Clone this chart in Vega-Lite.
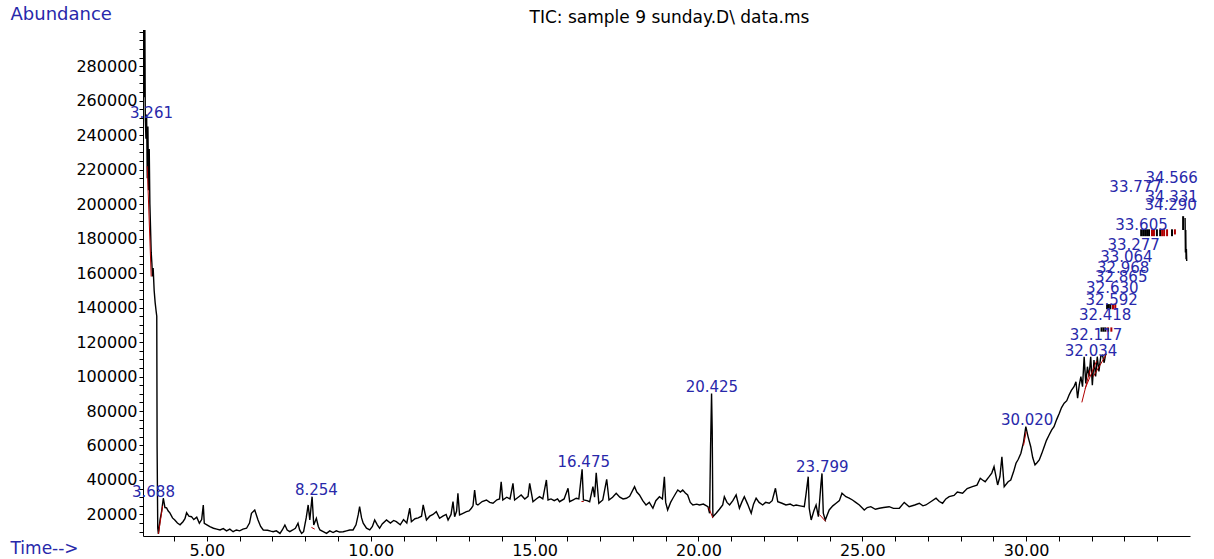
{
  "$schema": "https://vega.github.io/schema/vega-lite/v6.json",
  "width": 1047,
  "height": 506,
  "autosize": {"type": "none"},
  "padding": {"left": 143, "top": 30, "right": 24, "bottom": 23},
  "background": "white",
  "config": {"view": {"stroke": null}, "font": "DejaVu Sans"},
  "title": {"text": "TIC: sample 9 sunday.D\\ data.ms", "font": "DejaVu Sans", "fontSize": 17, "fontWeight": "normal", "color": "black", "anchor": "middle", "offset": -22, "dx": 3},
  "datasets": {
    "tic": [
      {"seg":"a","t":3.06,"val":330000},{"seg":"a","t":3.08,"val":262000},{"seg":"a","t":3.10,"val":330000},{"seg":"a","t":3.12,"val":250000},
      {"seg":"a","t":3.14,"val":238000},{"seg":"a","t":3.16,"val":252000},{"seg":"a","t":3.18,"val":215000},{"seg":"a","t":3.20,"val":245000},
      {"seg":"a","t":3.22,"val":208000},{"seg":"a","t":3.24,"val":232000},{"seg":"a","t":3.26,"val":200000},{"seg":"a","t":3.28,"val":186000},
      {"seg":"a","t":3.30,"val":172000},{"seg":"a","t":3.32,"val":166000},{"seg":"a","t":3.34,"val":158000},{"seg":"a","t":3.36,"val":163000},
      {"seg":"a","t":3.39,"val":150000},{"seg":"a","t":3.42,"val":143000},{"seg":"a","t":3.45,"val":138000},{"seg":"a","t":3.47,"val":135000},
      {"seg":"a","t":3.48,"val":60000},{"seg":"a","t":3.50,"val":12000},{"seg":"a","t":3.52,"val":8700},{"seg":"a","t":3.57,"val":16800},
      {"seg":"a","t":3.62,"val":22000},{"seg":"a","t":3.67,"val":29400},{"seg":"a","t":3.72,"val":24000},{"seg":"a","t":3.77,"val":23800},
      {"seg":"a","t":3.82,"val":22000},{"seg":"a","t":3.87,"val":20900},{"seg":"a","t":3.95,"val":18000},{"seg":"a","t":4.02,"val":16800},
      {"seg":"a","t":4.10,"val":15000},{"seg":"a","t":4.18,"val":14000},{"seg":"a","t":4.27,"val":15800},{"seg":"a","t":4.33,"val":17500},
      {"seg":"a","t":4.38,"val":21000},{"seg":"a","t":4.45,"val":19000},{"seg":"a","t":4.53,"val":18700},{"seg":"a","t":4.60,"val":17000},
      {"seg":"a","t":4.69,"val":18400},{"seg":"a","t":4.77,"val":14900},{"seg":"a","t":4.84,"val":17000},{"seg":"a","t":4.89,"val":25500},
      {"seg":"a","t":4.92,"val":14900},{"seg":"a","t":5.00,"val":14000},{"seg":"a","t":5.09,"val":12900},{"seg":"a","t":5.20,"val":12000},
      {"seg":"a","t":5.30,"val":11500},{"seg":"a","t":5.40,"val":11000},{"seg":"a","t":5.50,"val":11800},{"seg":"a","t":5.60,"val":10500},
      {"seg":"a","t":5.70,"val":11500},{"seg":"a","t":5.80,"val":10000},{"seg":"a","t":5.90,"val":11000},{"seg":"a","t":6.00,"val":10500},
      {"seg":"a","t":6.10,"val":11500},{"seg":"a","t":6.21,"val":12000},{"seg":"a","t":6.30,"val":15000},{"seg":"a","t":6.36,"val":20700},
      {"seg":"a","t":6.46,"val":22600},{"seg":"a","t":6.56,"val":16800},{"seg":"a","t":6.64,"val":13000},{"seg":"a","t":6.72,"val":11000},
      {"seg":"a","t":6.85,"val":10800},{"seg":"a","t":6.95,"val":10300},{"seg":"a","t":7.02,"val":10000},{"seg":"a","t":7.12,"val":10500},
      {"seg":"a","t":7.23,"val":9000},{"seg":"a","t":7.30,"val":11000},{"seg":"a","t":7.38,"val":13900},{"seg":"a","t":7.45,"val":11000},
      {"seg":"a","t":7.53,"val":10000},{"seg":"a","t":7.62,"val":11000},{"seg":"a","t":7.70,"val":12000},{"seg":"a","t":7.78,"val":14900},
      {"seg":"a","t":7.83,"val":11000},{"seg":"a","t":7.89,"val":9000},{"seg":"a","t":7.95,"val":10000},{"seg":"a","t":8.03,"val":18000},
      {"seg":"a","t":8.09,"val":25500},{"seg":"a","t":8.14,"val":16800},{"seg":"a","t":8.21,"val":30300},{"seg":"a","t":8.26,"val":13900},
      {"seg":"a","t":8.34,"val":17800},{"seg":"a","t":8.40,"val":13000},{"seg":"a","t":8.45,"val":11000},{"seg":"a","t":8.55,"val":10000},
      {"seg":"a","t":8.65,"val":9000},{"seg":"a","t":8.75,"val":10500},{"seg":"a","t":8.85,"val":9500},{"seg":"a","t":8.95,"val":10500},
      {"seg":"a","t":9.05,"val":9800},{"seg":"a","t":9.16,"val":10000},{"seg":"a","t":9.26,"val":10500},{"seg":"a","t":9.36,"val":11000},
      {"seg":"a","t":9.46,"val":11000},{"seg":"a","t":9.55,"val":14000},{"seg":"a","t":9.62,"val":20000},{"seg":"a","t":9.66,"val":24500},
      {"seg":"a","t":9.72,"val":18000},{"seg":"a","t":9.77,"val":14900},{"seg":"a","t":9.87,"val":12000},{"seg":"a","t":9.97,"val":11000},
      {"seg":"a","t":10.05,"val":13000},{"seg":"a","t":10.12,"val":16800},{"seg":"a","t":10.20,"val":14000},{"seg":"a","t":10.27,"val":12000},
      {"seg":"a","t":10.35,"val":14500},{"seg":"a","t":10.48,"val":16800},{"seg":"a","t":10.60,"val":15000},{"seg":"a","t":10.70,"val":16500},
      {"seg":"a","t":10.78,"val":15800},{"seg":"a","t":10.90,"val":14000},{"seg":"a","t":11.00,"val":17000},{"seg":"a","t":11.10,"val":15000},
      {"seg":"a","t":11.19,"val":23600},{"seg":"a","t":11.24,"val":15800},{"seg":"a","t":11.35,"val":17500},{"seg":"a","t":11.45,"val":18000},
      {"seg":"a","t":11.55,"val":19000},{"seg":"a","t":11.60,"val":25500},{"seg":"a","t":11.70,"val":16800},{"seg":"a","t":11.80,"val":19000},
      {"seg":"a","t":11.90,"val":20000},{"seg":"a","t":12.00,"val":21600},{"seg":"a","t":12.10,"val":17800},{"seg":"a","t":12.20,"val":19000},
      {"seg":"a","t":12.30,"val":20000},{"seg":"a","t":12.36,"val":16800},{"seg":"a","t":12.45,"val":20000},{"seg":"a","t":12.51,"val":27400},
      {"seg":"a","t":12.56,"val":18700},{"seg":"a","t":12.62,"val":22000},{"seg":"a","t":12.66,"val":32300},{"seg":"a","t":12.71,"val":19700},
      {"seg":"a","t":12.80,"val":20500},{"seg":"a","t":12.92,"val":21600},{"seg":"a","t":13.00,"val":22000},{"seg":"a","t":13.07,"val":23600},
      {"seg":"a","t":13.12,"val":25000},{"seg":"a","t":13.17,"val":34200},{"seg":"a","t":13.22,"val":26000},{"seg":"a","t":13.27,"val":25500},
      {"seg":"a","t":13.40,"val":27500},{"seg":"a","t":13.53,"val":28400},{"seg":"a","t":13.63,"val":27000},{"seg":"a","t":13.73,"val":26500},
      {"seg":"a","t":13.85,"val":28500},{"seg":"a","t":13.93,"val":29000},{"seg":"a","t":13.98,"val":39000},{"seg":"a","t":14.03,"val":28400},
      {"seg":"a","t":14.15,"val":30000},{"seg":"a","t":14.25,"val":29000},{"seg":"a","t":14.34,"val":38000},{"seg":"a","t":14.39,"val":28400},
      {"seg":"a","t":14.50,"val":30000},{"seg":"a","t":14.59,"val":31300},{"seg":"a","t":14.70,"val":29000},{"seg":"a","t":14.80,"val":30500},
      {"seg":"a","t":14.85,"val":38000},{"seg":"a","t":14.95,"val":27400},{"seg":"a","t":15.05,"val":29000},{"seg":"a","t":15.15,"val":30300},
      {"seg":"a","t":15.25,"val":29000},{"seg":"a","t":15.36,"val":40000},{"seg":"a","t":15.41,"val":28400},{"seg":"a","t":15.50,"val":29000},
      {"seg":"a","t":15.60,"val":28000},{"seg":"a","t":15.70,"val":29000},{"seg":"a","t":15.76,"val":27400},{"seg":"a","t":15.90,"val":29000},
      {"seg":"a","t":16.02,"val":35200},{"seg":"a","t":16.07,"val":27400},{"seg":"a","t":16.18,"val":28500},{"seg":"a","t":16.27,"val":29400},
      {"seg":"a","t":16.35,"val":29000},{"seg":"a","t":16.45,"val":46200},{"seg":"a","t":16.49,"val":28400},{"seg":"a","t":16.60,"val":28000},
      {"seg":"a","t":16.68,"val":27400},{"seg":"a","t":16.78,"val":36100},{"seg":"a","t":16.83,"val":30000},{"seg":"a","t":16.88,"val":44200},
      {"seg":"a","t":16.96,"val":26500},{"seg":"a","t":17.08,"val":28400},{"seg":"a","t":17.20,"val":40400},{"seg":"a","t":17.27,"val":28400},
      {"seg":"a","t":17.38,"val":30000},{"seg":"a","t":17.49,"val":32300},{"seg":"a","t":17.60,"val":30000},{"seg":"a","t":17.70,"val":29000},
      {"seg":"a","t":17.80,"val":29400},{"seg":"a","t":17.90,"val":30500},{"seg":"a","t":18.05,"val":36100},{"seg":"a","t":18.12,"val":33000},
      {"seg":"a","t":18.20,"val":31300},{"seg":"a","t":18.30,"val":28000},{"seg":"a","t":18.40,"val":25500},{"seg":"a","t":18.50,"val":27000},
      {"seg":"a","t":18.61,"val":23600},{"seg":"a","t":18.70,"val":28000},{"seg":"a","t":18.81,"val":30300},{"seg":"a","t":18.90,"val":29000},
      {"seg":"a","t":18.96,"val":41900},{"seg":"a","t":19.00,"val":27000},{"seg":"a","t":19.06,"val":22600},{"seg":"a","t":19.15,"val":27000},
      {"seg":"a","t":19.22,"val":29400},{"seg":"a","t":19.30,"val":32000},{"seg":"a","t":19.37,"val":34200},{"seg":"a","t":19.45,"val":33000},
      {"seg":"a","t":19.52,"val":34200},{"seg":"a","t":19.60,"val":32500},{"seg":"a","t":19.67,"val":31300},{"seg":"a","t":19.75,"val":27000},
      {"seg":"a","t":19.83,"val":25500},{"seg":"a","t":19.95,"val":26000},{"seg":"a","t":20.03,"val":25500},{"seg":"a","t":20.15,"val":26000},
      {"seg":"a","t":20.29,"val":24500},{"seg":"a","t":20.34,"val":20700},{"seg":"a","t":20.37,"val":59300},{"seg":"a","t":20.40,"val":90200},
      {"seg":"a","t":20.42,"val":69000},{"seg":"a","t":20.44,"val":18700},{"seg":"a","t":20.54,"val":20700},{"seg":"a","t":20.64,"val":23000},
      {"seg":"a","t":20.74,"val":25500},{"seg":"a","t":20.79,"val":30300},{"seg":"a","t":20.87,"val":27000},{"seg":"a","t":20.95,"val":25500},
      {"seg":"a","t":21.05,"val":28000},{"seg":"a","t":21.15,"val":31300},{"seg":"a","t":21.25,"val":23600},{"seg":"a","t":21.32,"val":27000},
      {"seg":"a","t":21.40,"val":30300},{"seg":"a","t":21.50,"val":26000},{"seg":"a","t":21.61,"val":20700},{"seg":"a","t":21.68,"val":26000},
      {"seg":"a","t":21.76,"val":29400},{"seg":"a","t":21.85,"val":27000},{"seg":"a","t":21.96,"val":25500},{"seg":"a","t":22.05,"val":27000},
      {"seg":"a","t":22.16,"val":26500},{"seg":"a","t":22.25,"val":28000},{"seg":"a","t":22.35,"val":35200},{"seg":"a","t":22.42,"val":27400},
      {"seg":"a","t":22.55,"val":26500},{"seg":"a","t":22.67,"val":25500},{"seg":"a","t":22.80,"val":26000},{"seg":"a","t":22.90,"val":25000},
      {"seg":"a","t":22.98,"val":25500},{"seg":"a","t":23.10,"val":25000},{"seg":"a","t":23.23,"val":24500},{"seg":"a","t":23.28,"val":31300},
      {"seg":"a","t":23.35,"val":41900},{"seg":"a","t":23.38,"val":23600},{"seg":"a","t":23.44,"val":16800},{"seg":"a","t":23.52,"val":22000},
      {"seg":"a","t":23.59,"val":25500},{"seg":"a","t":23.66,"val":18700},{"seg":"a","t":23.74,"val":38000},{"seg":"a","t":23.77,"val":43800},
      {"seg":"a","t":23.81,"val":20700},{"seg":"a","t":23.87,"val":16800},{"seg":"a","t":23.99,"val":22600},{"seg":"a","t":24.10,"val":25000},
      {"seg":"a","t":24.20,"val":26500},{"seg":"a","t":24.30,"val":28000},{"seg":"a","t":24.38,"val":32300},{"seg":"a","t":24.50,"val":30300},
      {"seg":"a","t":24.60,"val":29500},{"seg":"a","t":24.70,"val":28400},{"seg":"a","t":24.80,"val":27000},{"seg":"a","t":24.91,"val":25500},
      {"seg":"a","t":25.06,"val":22600},{"seg":"a","t":25.15,"val":24000},{"seg":"a","t":25.26,"val":24500},{"seg":"a","t":25.40,"val":23000},
      {"seg":"a","t":25.52,"val":23600},{"seg":"a","t":25.65,"val":24000},{"seg":"a","t":25.82,"val":24500},{"seg":"a","t":25.95,"val":23500},
      {"seg":"a","t":26.13,"val":23600},{"seg":"a","t":26.28,"val":27000},{"seg":"a","t":26.43,"val":24500},{"seg":"a","t":26.60,"val":25500},
      {"seg":"a","t":26.74,"val":26500},{"seg":"a","t":26.85,"val":25000},{"seg":"a","t":26.94,"val":25500},{"seg":"a","t":27.10,"val":27500},
      {"seg":"a","t":27.25,"val":29400},{"seg":"a","t":27.35,"val":27500},{"seg":"a","t":27.45,"val":26500},{"seg":"a","t":27.55,"val":29000},
      {"seg":"a","t":27.65,"val":30300},{"seg":"a","t":27.80,"val":31000},{"seg":"a","t":27.90,"val":33000},{"seg":"a","t":28.06,"val":32300},
      {"seg":"a","t":28.20,"val":35000},{"seg":"a","t":28.36,"val":36100},{"seg":"a","t":28.50,"val":37000},{"seg":"a","t":28.60,"val":41000},
      {"seg":"a","t":28.67,"val":40000},{"seg":"a","t":28.75,"val":39000},{"seg":"a","t":28.87,"val":41900},{"seg":"a","t":28.95,"val":44000},
      {"seg":"a","t":29.02,"val":47700},{"seg":"a","t":29.13,"val":37100},{"seg":"a","t":29.20,"val":42000},{"seg":"a","t":29.26,"val":53500},
      {"seg":"a","t":29.33,"val":36100},{"seg":"a","t":29.45,"val":39000},{"seg":"a","t":29.53,"val":40000},{"seg":"a","t":29.62,"val":45000},
      {"seg":"a","t":29.69,"val":49700},{"seg":"a","t":29.76,"val":52000},{"seg":"a","t":29.84,"val":55500},{"seg":"a","t":29.92,"val":62000},
      {"seg":"a","t":29.99,"val":70900},{"seg":"a","t":30.06,"val":65000},{"seg":"a","t":30.14,"val":59300},{"seg":"a","t":30.20,"val":53000},
      {"seg":"a","t":30.27,"val":48700},{"seg":"a","t":30.33,"val":50000},{"seg":"a","t":30.40,"val":51600},{"seg":"a","t":30.47,"val":55000},
      {"seg":"a","t":30.55,"val":59300},{"seg":"a","t":30.62,"val":63000},{"seg":"a","t":30.70,"val":66100},{"seg":"a","t":30.78,"val":69000},
      {"seg":"a","t":30.85,"val":70900},{"seg":"a","t":30.93,"val":75000},{"seg":"a","t":31.01,"val":78600},{"seg":"a","t":31.08,"val":82000},
      {"seg":"a","t":31.16,"val":84500},{"seg":"a","t":31.24,"val":86000},{"seg":"a","t":31.31,"val":89300},{"seg":"a","t":31.38,"val":92000},
      {"seg":"a","t":31.46,"val":94100},{"seg":"a","t":31.52,"val":97000},{"seg":"a","t":31.57,"val":87400},{"seg":"a","t":31.62,"val":95000},
      {"seg":"a","t":31.67,"val":99900},{"seg":"a","t":31.72,"val":94100},{"seg":"a","t":31.77,"val":111500},{"seg":"a","t":31.82,"val":96000},
      {"seg":"a","t":31.87,"val":105700},{"seg":"a","t":31.92,"val":100000},{"seg":"a","t":31.97,"val":111500},{"seg":"a","t":32.02,"val":95000},
      {"seg":"a","t":32.07,"val":109600},{"seg":"a","t":32.12,"val":100000},{"seg":"a","t":32.17,"val":111500},{"seg":"a","t":32.22,"val":103000},
      {"seg":"a","t":32.28,"val":112000},{"seg":"a","t":32.33,"val":112400},{"seg":"a","t":32.38,"val":108000},{"seg":"a","t":32.43,"val":113400},
      {"seg":"b","t":34.85,"val":192000},{"seg":"b","t":34.86,"val":172000},{"seg":"b","t":34.87,"val":185000},{"seg":"b","t":34.88,"val":168000},
      {"seg":"b","t":34.89,"val":174000},{"seg":"b","t":34.90,"val":167000}
    ],
    "baselines": [
      {"seg":"r1","t":3.18,"val":222000},{"seg":"r1","t":3.30,"val":158000},
      {"seg":"r2","t":3.52,"val":8700},{"seg":"r2","t":3.65,"val":25000},
      {"seg":"r3","t":8.19,"val":12500},{"seg":"r3","t":8.29,"val":11500},
      {"seg":"r4","t":16.43,"val":27500},{"seg":"r4","t":16.50,"val":27500},
      {"seg":"r5","t":20.31,"val":24000},{"seg":"r5","t":20.44,"val":18000},
      {"seg":"r6","t":23.69,"val":20000},{"seg":"r6","t":23.88,"val":16000},
      {"seg":"r7","t":29.92,"val":60000},{"seg":"r7","t":30.00,"val":68000},
      {"seg":"r8","t":31.70,"val":85000},{"seg":"r8","t":31.95,"val":104000},
      {"seg":"r9","t":31.80,"val":93000},{"seg":"r9","t":32.15,"val":109000},
      {"seg":"r10","t":32.05,"val":100000},{"seg":"r10","t":32.45,"val":113000}
    ],
    "marks": [
      {"kind":"peak","t":33.51,"val":181400,"val2":185400},{"kind":"peak","t":33.57,"val":181400,"val2":185400},
      {"kind":"peak","t":33.63,"val":181400,"val2":185400},{"kind":"peak","t":33.69,"val":181400,"val2":185400},
      {"kind":"peak","t":33.75,"val":181400,"val2":185400},{"kind":"base","t":33.84,"val":181400,"val2":185400},
      {"kind":"base","t":33.90,"val":181400,"val2":185400},{"kind":"peak","t":33.99,"val":181400,"val2":185400},
      {"kind":"peak","t":34.09,"val":181400,"val2":185400},{"kind":"base","t":34.15,"val":181400,"val2":185400},
      {"kind":"base","t":34.21,"val":181400,"val2":185400},{"kind":"base","t":34.30,"val":181400,"val2":185400},
      {"kind":"peak","t":34.45,"val":181400,"val2":185400},{"kind":"base","t":34.54,"val":182400,"val2":185400},
      {"kind":"peak","t":34.79,"val":185000,"val2":193000},
      {"kind":"peak","t":32.47,"val":139000,"val2":142000},{"kind":"peak","t":32.52,"val":139000,"val2":142000},
      {"kind":"peak","t":32.57,"val":139000,"val2":142000},{"kind":"base","t":32.65,"val":139000,"val2":142000},
      {"kind":"base","t":32.72,"val":139000,"val2":142000},
      {"kind":"peak","t":32.30,"val":126000,"val2":128500},{"kind":"peak","t":32.36,"val":126000,"val2":128500},
      {"kind":"peak","t":32.42,"val":126000,"val2":128500},{"kind":"base","t":32.50,"val":126000,"val2":128500},
      {"kind":"base","t":32.60,"val":126000,"val2":128500}
    ],
    "labels": [
      {"label":"3.261","t":3.31,"val":252700},
      {"label":"3.688","t":3.37,"val":33000},
      {"label":"8.254","t":8.34,"val":34200},
      {"label":"16.475","t":16.50,"val":50600},
      {"label":"20.425","t":20.41,"val":94100},
      {"label":"23.799","t":23.78,"val":47700},
      {"label":"30.020","t":30.03,"val":74800},
      {"label":"32.034","t":31.98,"val":114800},
      {"label":"32.117","t":32.13,"val":124100},
      {"label":"32.418","t":32.41,"val":135700},
      {"label":"32.592","t":32.61,"val":144400},
      {"label":"32.630","t":32.63,"val":151300},
      {"label":"32.865","t":32.90,"val":157700},
      {"label":"32.968","t":32.96,"val":162900},
      {"label":"33.064","t":33.06,"val":169300},
      {"label":"33.277","t":33.28,"val":176200},
      {"label":"33.605","t":33.52,"val":187800},
      {"label":"34.290","t":34.41,"val":199400},
      {"label":"34.331","t":34.44,"val":204000},
      {"label":"33.777","t":33.34,"val":209800},
      {"label":"34.566","t":34.44,"val":215100}
    ]
  },
  "encoding": {
    "x": {
      "field": "t", "type": "quantitative",
      "scale": {"domain": [3.05, 35], "nice": false, "zero": false},
      "axis": {
        "values": [4,5,6,7,8,9,10,11,12,13,14,15,16,17,18,19,20,21,22,23,24,25,26,27,28,29,30,31,32,33,34],
        "labelExpr": "datum.value % 5 === 0 ? format(datum.value, '.2f') : ''",
        "grid": false, "tickSize": 5, "tickColor": "black", "domainColor": "black",
        "labelFont": "DejaVu Sans", "labelFontSize": 16, "labelColor": "black", "labelPadding": 1,
        "labelFlush": false, "labelOverlap": false,
        "title": "Time-->", "titleFont": "DejaVu Sans", "titleFontSize": 17, "titleFontWeight": "normal",
        "titleColor": "#2828aa", "titleX": -133, "titleY": 12, "titleAlign": "left", "titleBaseline": "middle", "titleAngle": 0
      }
    },
    "y": {
      "field": "val", "type": "quantitative",
      "scale": {"domain": [7500, 301000], "nice": false, "zero": false},
      "axis": {
        "values": [10000,15000,20000,25000,30000,35000,40000,45000,50000,55000,60000,65000,70000,75000,80000,85000,90000,95000,100000,105000,110000,115000,120000,125000,130000,135000,140000,145000,150000,155000,160000,165000,170000,175000,180000,185000,190000,195000,200000,205000,210000,215000,220000,225000,230000,235000,240000,245000,250000,255000,260000,265000,270000,275000,280000,285000,290000,295000,300000],
        "labelExpr": "(datum.value % 20000 === 0 && datum.value <= 280000) ? format(datum.value, 'd') : ''",
        "grid": false, "tickSize": 4, "tickColor": "black", "domainColor": "black",
        "labelFont": "DejaVu Sans", "labelFontSize": 16, "labelColor": "black", "labelPadding": 2,
        "labelOverlap": false, "labelFlush": false,
        "title": "Abundance", "titleFont": "DejaVu Sans", "titleFontSize": 18, "titleFontWeight": "normal",
        "titleColor": "#2828aa", "titleX": -133, "titleY": -16, "titleAlign": "left", "titleBaseline": "middle", "titleAngle": 0
      }
    }
  },
  "layer": [
    {
      "data": {"name": "tic"},
      "mark": {"type": "line", "color": "black", "strokeWidth": 1.4, "clip": true, "interpolate": "linear"},
      "encoding": {"detail": {"field": "seg"}}
    },
    {
      "data": {"name": "baselines"},
      "mark": {"type": "line", "color": "#b00000", "strokeWidth": 1, "clip": true},
      "encoding": {"detail": {"field": "seg"}}
    },
    {
      "data": {"name": "marks"},
      "mark": {"type": "rule", "strokeWidth": 2},
      "encoding": {
        "y2": {"field": "val2"},
        "color": {"field": "kind", "type": "nominal", "scale": {"domain": ["peak", "base"], "range": ["black", "#b00000"]}, "legend": null}
      }
    },
    {
      "data": {"name": "labels"},
      "mark": {"type": "text", "font": "DejaVu Sans", "fontSize": 15, "color": "#2828aa", "align": "center", "baseline": "middle"},
      "encoding": {"text": {"field": "label"}}
    }
  ]
}
